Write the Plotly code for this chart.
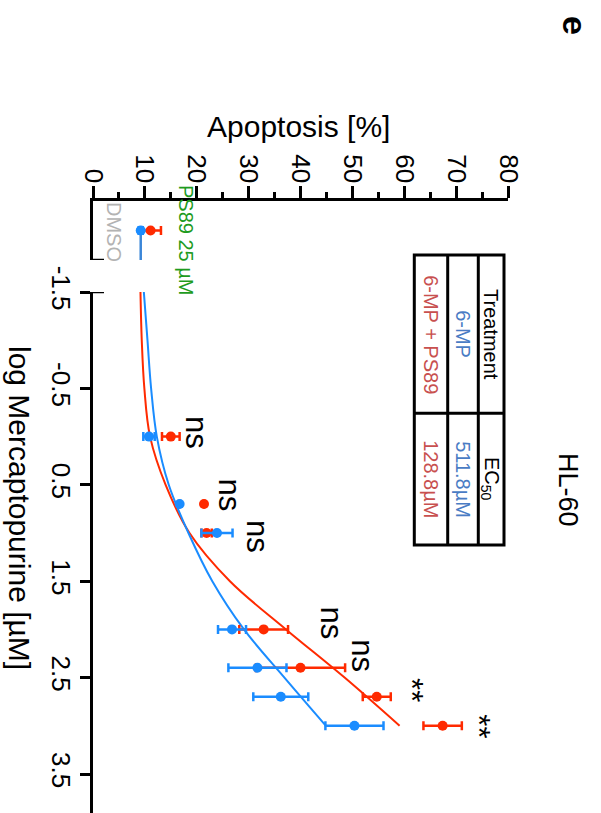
import plotly.graph_objects as go

# ---------------- data ----------------
conc_labels = ["1", "5", "10", "100", "250", "500", "1000"]   # µM
log_conc = [0.0, 0.699, 1.0, 2.0, 2.398, 2.699, 3.0]

mp_mean = [10.8, 16.7, 23.9, 26.8, 31.7, 36.2, 50.4]          # 6-MP (blue)
mp_err = [1.1, 0.0, 3.0, 2.7, 5.6, 5.3, 5.6]
combo_mean = [15.0, 21.4, 21.9, 32.9, 40.0, 54.7, 67.4]       # 6-MP + PS89 (red)
combo_err = [1.7, 0.0, 1.0, 4.7, 8.6, 2.7, 3.7]

dmso_mp = 9.2
dmso_mp_err = 0.4
dmso_combo = 11.1
dmso_combo_err = 2.0

# fitted curves
fit_log = [-1.5, -1.0, -0.5, 0.0, 0.5, 1.0, 1.5, 2.0, 2.5, 3.0]
fit_mp = [9.8, 10.5, 11.2, 12.3, 14.6, 18.4, 23.0, 29.1, 36.9, 44.9]
fit_combo = [9.15, 9.4, 9.9, 11.0, 14.0, 18.6, 26.4, 37.2, 48.5, 59.1]

sig_text = ["ns", "ns", "ns", "ns", "ns", "**", "**"]
sig_x = [20.0, 26.4, 31.6, 45.9, 51.9, 61.5, 74.3]
sig_y = [-0.04, 0.61, 1.04, 1.93, 2.27, 2.63, 3.01]

x_ticks = [0, 10, 20, 30, 40, 50, 60, 70, 80]
y_ticks = [-1.5, -0.5, 0.5, 1.5, 2.5, 3.5]
y_ticktext = ["-1.5", "-0.5", "0.5", "1.5", "2.5", "3.5"]

table_rows = [["Treatment", "EC<sub>50</sub>"], ["6-MP", "511.8µM"], ["6-MP + PS89", "128.8µM"]]
table_colors = ["#000000", "#4a7cc4", "#c8504f"]

# ---------------- style ----------------
BLUE = "#1a8cff"
RED = "#ff2a00"
FONT = "Liberation Sans, Arial, Helvetica, sans-serif"
W, H = 601, 813
L, R, T, B = 93, 508, 201, 813


def px(x):
    return (x - L) / (R - L)


def py(y):
    return (B - y) / (B - T)


fig = go.Figure()

# fitted curves
fig.add_trace(go.Scatter(x=fit_combo, y=fit_log, mode="lines", line=dict(color=RED, width=2, shape="spline"),
                         xaxis="x", yaxis="y", hoverinfo="skip"))
fig.add_trace(go.Scatter(x=fit_mp, y=fit_log, mode="lines", line=dict(color=BLUE, width=2, shape="spline"),
                         xaxis="x", yaxis="y", hoverinfo="skip"))

# DMSO drop line (blue)
fig.add_trace(go.Scatter(x=[dmso_mp, dmso_mp], y=[0.5, 1.0], mode="lines", line=dict(color="#3a86d8", width=2.5),
                         xaxis="x", yaxis="y2", hoverinfo="skip"))

# points: red then blue
fig.add_trace(go.Scatter(x=combo_mean, y=log_conc, mode="markers",
                         marker=dict(color=RED, size=10),
                         error_x=dict(type="data", array=combo_err, color=RED, thickness=2.5, width=4.5),
                         xaxis="x", yaxis="y"))
fig.add_trace(go.Scatter(x=[dmso_combo], y=[0.5], mode="markers",
                         marker=dict(color=RED, size=10),
                         error_x=dict(type="data", array=[dmso_combo_err], color=RED, thickness=2.5, width=4.5),
                         xaxis="x", yaxis="y2"))
fig.add_trace(go.Scatter(x=mp_mean, y=log_conc, mode="markers",
                         marker=dict(color=BLUE, size=10),
                         error_x=dict(type="data", array=mp_err, color=BLUE, thickness=2.5, width=4.5),
                         xaxis="x", yaxis="y"))
fig.add_trace(go.Scatter(x=[dmso_mp], y=[0.5], mode="markers",
                         marker=dict(color=BLUE, size=10),
                         error_x=dict(type="data", array=[dmso_mp_err], color=BLUE, thickness=2.5, width=4.5),
                         xaxis="x", yaxis="y2"))

annotations = []
# significance labels
for t, x, y in zip(sig_text, sig_x, sig_y):
    annotations.append(dict(text=t, x=x, y=y, xref="x", yref="y", showarrow=False, textangle=90,
                            font=dict(size=31, color="black", family=FONT), xanchor="center", yanchor="middle"))

# axis titles
annotations.append(dict(text="Apoptosis [%]", x=px(298), y=py(127), xref="paper", yref="paper", showarrow=False,
                        font=dict(size=30, color="black", family=FONT), xanchor="center", yanchor="middle"))
annotations.append(dict(text="log Mercaptopurine [µM]", x=px(20), y=py(508), xref="paper", yref="paper",
                        showarrow=False, textangle=90,
                        font=dict(size=30, color="black", family=FONT), xanchor="center", yanchor="middle"))
# DMSO / PS89 labels
annotations.append(dict(text="DMSO", x=px(114), y=py(232), xref="paper", yref="paper", showarrow=False,
                        textangle=90, font=dict(size=20, color="#b3b3b3", family=FONT),
                        xanchor="center", yanchor="middle"))
annotations.append(dict(text="PS89 25 µM", x=px(186), y=py(240), xref="paper", yref="paper", showarrow=False,
                        textangle=90, font=dict(size=20, color="#1e9b1e", family=FONT),
                        xanchor="center", yanchor="middle"))
# title & panel letter
annotations.append(dict(text="HL-60", x=px(568), y=py(490), xref="paper", yref="paper", showarrow=False,
                        textangle=90, font=dict(size=27, color="black", family=FONT),
                        xanchor="center", yanchor="middle"))
annotations.append(dict(text="<b>e</b>", x=px(575), y=py(25), xref="paper", yref="paper", showarrow=False,
                        textangle=90, font=dict(size=34, color="black", family=FONT),
                        xanchor="center", yanchor="middle"))

# table
tx = [504, 478.3, 447.7, 414.3]   # column boundaries (px), right to left
ty = [255, 413.3, 545]            # row boundaries (px), top to bottom
shapes = []
shapes.append(dict(type="rect", xref="paper", yref="paper", x0=px(tx[3]), x1=px(tx[0]), y0=py(ty[2]), y1=py(ty[0]),
                   line=dict(color="black", width=3)))
for xb in tx[1:3]:
    shapes.append(dict(type="line", xref="paper", yref="paper", x0=px(xb), x1=px(xb), y0=py(ty[2]), y1=py(ty[0]),
                       line=dict(color="black", width=3)))
shapes.append(dict(type="line", xref="paper", yref="paper", x0=px(tx[3]), x1=px(tx[0]), y0=py(ty[1]), y1=py(ty[1]),
                   line=dict(color="black", width=3)))
for i, (row, col) in enumerate(zip(table_rows, table_colors)):
    cx = (tx[i] + tx[i + 1]) / 2
    for j, txt in enumerate(row):
        cy = (ty[j] + ty[j + 1]) / 2
        annotations.append(dict(text=txt, x=px(cx), y=py(cy), xref="paper", yref="paper", showarrow=False,
                                textangle=90, font=dict(size=20, color=col, family=FONT),
                                xanchor="center", yanchor="middle"))

# axis decorations: caps of the broken axis
shapes.append(dict(type="line", xref="x", xsizemode="pixel", xanchor=0, x0=-11, x1=11,
                   yref="y", y0=-1.5, y1=-1.5, line=dict(color="black", width=2.5)))
shapes.append(dict(type="line", xref="x", xsizemode="pixel", xanchor=0, x0=0, x1=11,
                   yref="y2", y0=1, y1=1, line=dict(color="black", width=2.5)))
shapes.append(dict(type="line", xref="x", xsizemode="pixel", xanchor=0, x0=-11, x1=0,
                   yref="paper", y0=1, y1=1, line=dict(color="black", width=2.5)))

fig.update_layout(
    width=W, height=H,
    margin=dict(l=L, r=W - R, t=T, b=0, pad=0),
    paper_bgcolor="white", plot_bgcolor="white",
    showlegend=False,
    font=dict(family=FONT, color="black"),
    xaxis=dict(range=[0, 80], anchor="y2", side="top", showline=True, linewidth=2.5, linecolor="black",
               ticks="outside", ticklen=12, tickwidth=2.5, tickcolor="black", tickvals=x_ticks,
               tickangle=90, tickfont=dict(size=26, family=FONT), showgrid=False, zeroline=False,
               ticklabelstandoff=-6,
               minor=dict(dtick=5, tick0=0, ticks="outside", ticklen=6, tickwidth=2.5, tickcolor="black",
                          showgrid=False)),
    yaxis=dict(domain=[0, (B - 292) / (B - T)], range=[-1.5 + (B - 292) / 96.4, -1.5], anchor="x",
               showline=True, linewidth=2.5, linecolor="black", ticks="outside", ticklen=10, tickwidth=2.5,
               tickcolor="black", tickvals=y_ticks, ticktext=y_ticktext, tickangle=90,
               ticklabelstandoff=-3,
               tickfont=dict(size=26, family=FONT), showgrid=False, zeroline=False),
    yaxis2=dict(domain=[(B - 260) / (B - T), 1], range=[1, 0], anchor="x", showline=True, linewidth=2.5,
                linecolor="black", ticks="", showticklabels=False, showgrid=False, zeroline=False),
    annotations=annotations,
    shapes=shapes,
)

fig.write_html("out.html", config={"displayModeBar": False},
               post_script="document.body.style.margin='0px';document.body.style.overflow='hidden';")
